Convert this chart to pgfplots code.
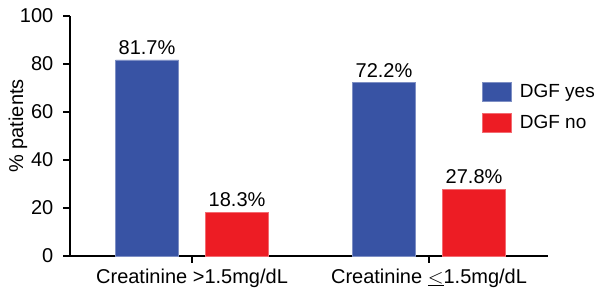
\documentclass[border=0pt]{standalone}
\usepackage{pgfplots}
\pgfplotsset{compat=1.18}
\usepackage{fontspec}
\setmainfont{Liberation Sans}
\definecolor{dgfblue}{RGB}{56,83,164}
\definecolor{dgfred}{RGB}{237,28,36}
\begin{document}
\begin{tikzpicture}
\begin{axis}[
  name=ax,
  scale only axis,
  width=478pt, height=240pt,
  xmin=-0.515, xmax=1.502,
  ymin=0, ymax=100,
  axis x line*=bottom,
  axis y line*=left,
  x axis line style={line width=2.8pt, -, black},
  y axis line style={line width=2.8pt, -, black},
  major tick style={line width=2.8pt, black},
  tick align=outside,
  major tick length=6.5pt,
  ytick={0,20,40,60,80,100},
  xtick={0,1},
  xticklabels={Creatinine >1.5mg/dL, Creatinine $\underline{<}$1.5mg/dL},
  /pgf/number format/assume math mode=true,
  tick label style={font=\fontsize{20}{24}\selectfont},
  yticklabel style={anchor=east, inner sep=0pt, xshift=-10pt},
  xticklabel style={anchor=base, inner sep=0pt, yshift=-20.5pt},
  ylabel={\% patients},
  ylabel style={font=\fontsize{20}{24}\selectfont, at={(axis description cs:-0.1088,0.542)}, anchor=center, inner sep=0pt},
  ybar, bar width=0.266,
  nodes near coords={\pgfmathprintnumber[fixed,precision=1,fixed zerofill]{\pgfplotspointmeta}\%},
  nodes near coords style={font=\fontsize{20}{24}\selectfont, anchor=base, inner sep=0pt, yshift=5.5pt},
  legend style={at={(rel axis cs:0.862,0.725)}, anchor=north west, draw=none, fill=none,
    font=\fontsize{19}{23}\selectfont, inner sep=0pt, nodes={inner sep=0pt}, row sep=11pt, column sep=8pt,
    legend cell align=left},
  legend image code/.code={\fill[#1] (0pt,-9.5pt) rectangle (29pt,9.5pt);},
  clip=false,
]
\addplot[fill=dgfblue, draw=dgfblue!65!white, line width=0.6pt, bar shift=-0.19] coordinates {(0,81.7) (1,72.2)};
\addplot[fill=dgfred, draw=dgfred!65!white, line width=0.6pt, bar shift=0.19] coordinates {(0,18.3) (1,27.8)};
\legend{DGF yes, DGF no}
\end{axis}
\pgfresetboundingbox
\path[use as bounding box] ([shift={(-70pt,-32pt)}]ax.south west) rectangle ([shift={(47pt,16pt)}]ax.north east);
\end{tikzpicture}
\end{document}
